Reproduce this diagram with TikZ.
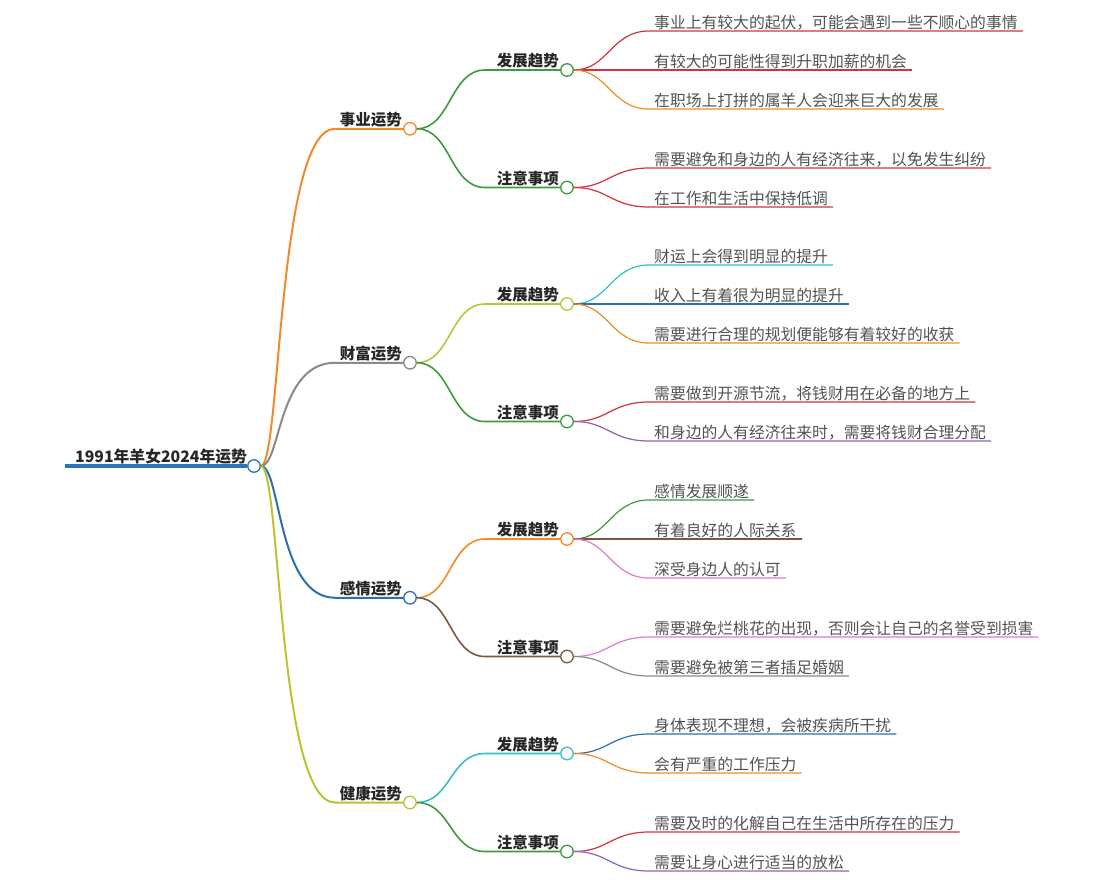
\documentclass[tikz,border=0pt]{standalone}
\usepackage{fontspec}
\newfontfamily\cjk{Noto Sans CJK SC}
\definecolor{cor}{HTML}{F08A2B}
\definecolor{cred}{HTML}{CF3440}
\definecolor{cgreen}{HTML}{3C9B3C}
\definecolor{cgray}{HTML}{8A8A8A}
\definecolor{cblue}{HTML}{2C6FAE}
\definecolor{croot}{HTML}{2A73B8}
\definecolor{colive}{HTML}{BDC232}
\definecolor{cyg}{HTML}{BCC53A}
\definecolor{ccyan}{HTML}{37BFC6}
\definecolor{cpurple}{HTML}{8D63B8}
\definecolor{cpink}{HTML}{E27AC9}
\definecolor{cbrown}{HTML}{7D5646}
\tikzset{
  dot/.style={circle, draw, fill=white, minimum size=12.5pt, inner sep=0pt, line width=1.3pt},
  lbl/.style={font=\cjk\bfseries\fontsize{15.5}{16}\selectfont, text=black!85, inner sep=0pt},
  rootlbl/.style={font=\cjk\bfseries\fontsize{15.8}{17}\selectfont, text=black!85, inner sep=0pt},
  leaf/.style={font=\cjk\fontsize{15.8}{16}\selectfont, text=black!68, inner xsep=5pt, inner ysep=0pt},
  leafedge/.style={line width=1.2pt},
  midedge/.style={line width=1.6pt},
  topedge/.style={line width=2pt}
}
% name, parent, y, colour, text
\newcommand\leafitem[5]{%
  \node[leaf, anchor=base west] (#1) at (649,#3-3) {#5};
  \draw[leafedge, #4] (#2.east) .. controls +(34,0) and +(-38,0) .. (649,#3) -- (#1.east |- 0,#3);
}
% name, parent, y, colour, text
\newcommand\miditem[5]{%
  \node[dot, draw=#4] (#1) at (567,#3) {};
  \node[lbl, anchor=base east] (#1t) at (559,#3-3.5) {#5};
  \draw[midedge, #4] (#2.east) .. controls +(34,0) and +(-35,0) .. (485,#3) -- (#1.west);
}
% name, y, colour, text
\newcommand\topitem[4]{%
  \node[dot, draw=#3] (#1) at (410,#2) {};
  \node[lbl, anchor=base east] (#1t) at (402,#2-3.5) {#4};
  \draw[topedge, #3] (root.east) .. controls +(20,0) and +(-58,0) .. (335,#2) -- (#1.west);
}
\begin{document}
\begin{tikzpicture}[x=1pt,y=-1pt]
\useasboundingbox (0,0) rectangle (1101,879);
\node[dot, draw=croot] (root) at (254,466) {};
\node[rootlbl, anchor=base west] (roott) at (75,462.5) {1991年羊女2024年运势};
\draw[croot, line width=3.5pt] (65,466) -- (root.west);

\topitem{a}{128.75}{cor}{事业运势}
\topitem{b}{362.75}{cgray}{财富运势}
\topitem{c}{597.75}{cblue}{感情运势}
\topitem{d}{802.5}{colive}{健康运势}

\miditem{a1}{a}{70}{cgreen}{发展趋势}
\miditem{a2}{a}{187.5}{cgreen}{注意事项}
\miditem{b1}{b}{304}{cyg}{发展趋势}
\miditem{b2}{b}{421.5}{cgreen}{注意事项}
\miditem{c1}{c}{539}{cor}{发展趋势}
\miditem{c2}{c}{656.5}{cbrown}{注意事项}
\miditem{d1}{d}{753.5}{ccyan}{发展趋势}
\miditem{d2}{d}{851.5}{cgreen}{注意事项}

\leafitem{a11}{a1}{31}{cred}{事业上有较大的起伏，可能会遇到一些不顺心的事情}
\leafitem{a12}{a1}{70}{cred}{有较大的可能性得到升职加薪的机会}
\leafitem{a13}{a1}{109}{cor}{在职场上打拼的属羊人会迎来巨大的发展}
\leafitem{a21}{a2}{168}{cred}{需要避免和身边的人有经济往来，以免发生纠纷}
\leafitem{a22}{a2}{207}{cred}{在工作和生活中保持低调}

\leafitem{b11}{b1}{265}{ccyan}{财运上会得到明显的提升}
\leafitem{b12}{b1}{304}{cblue}{收入上有着很为明显的提升}
\leafitem{b13}{b1}{343}{cor}{需要进行合理的规划便能够有着较好的收获}
\leafitem{b21}{b2}{402}{cred}{需要做到开源节流，将钱财用在必备的地方上}
\leafitem{b22}{b2}{441}{cpurple}{和身边的人有经济往来时，需要将钱财合理分配}

\leafitem{c11}{c1}{500}{cgreen}{感情发展顺遂}
\leafitem{c12}{c1}{539}{cbrown}{有着良好的人际关系}
\leafitem{c13}{c1}{578}{cpink}{深受身边人的认可}
\leafitem{c21}{c2}{637}{cpink}{需要避免烂桃花的出现，否则会让自己的名誉受到损害}
\leafitem{c22}{c2}{676}{cgray}{需要避免被第三者插足婚姻}

\leafitem{d11}{d1}{734}{cblue}{身体表现不理想，会被疾病所干扰}
\leafitem{d12}{d1}{773}{cor}{会有严重的工作压力}
\leafitem{d21}{d2}{832}{cred}{需要及时的化解自己在生活中所存在的压力}
\leafitem{d22}{d2}{871}{cpurple}{需要让身心进行适当的放松}
\end{tikzpicture}
\end{document}
